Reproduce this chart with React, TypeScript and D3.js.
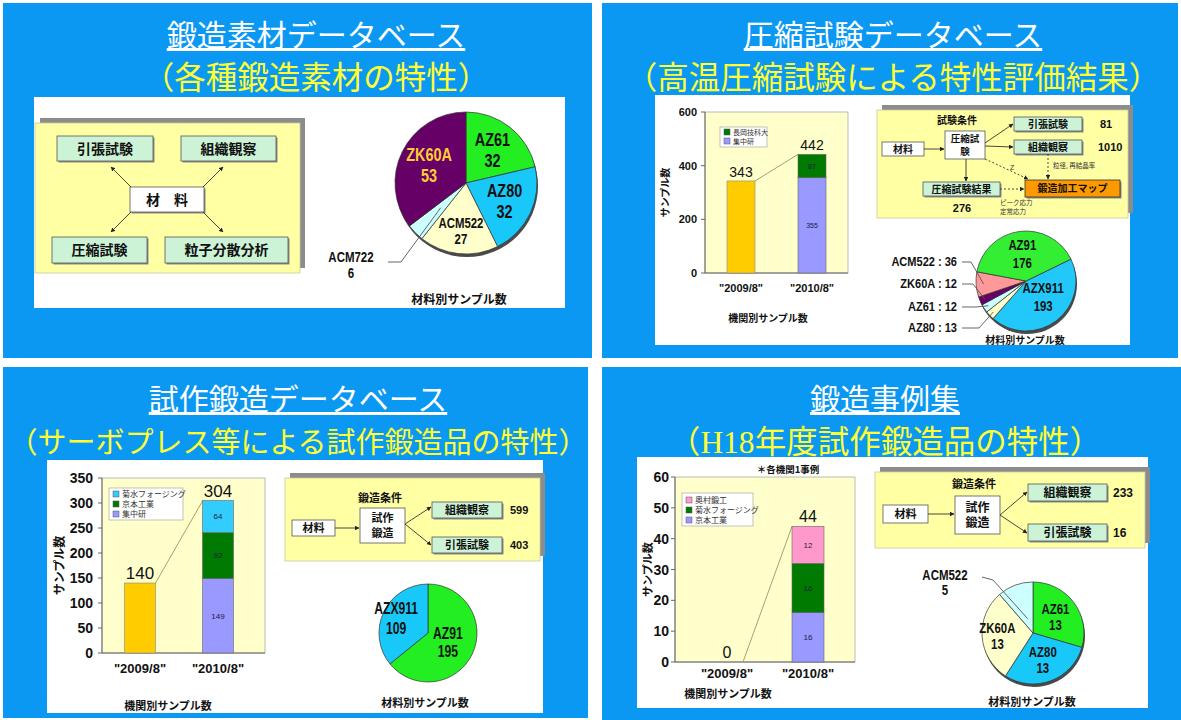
import * as d3 from 'd3'

const periods = ['"2009/8"', '"2010/8"']

// 鍛造素材データベース
const materialNames = ['AZ61', 'AZ80', 'ACM522', 'ACM722', 'ZK60A']
const materialCounts = [32, 32, 27, 6, 53]
const materialColors = ['#22ee22', '#18c8f8', '#ffffcc', '#ccffff', '#660066']

// 圧縮試験データベース
const compTotals = [343, 442]
const compInstitutes = ['集中研', '長岡技科大']
const compCounts2010 = [355, 87]
const compInstituteColors = ['#9999ff', '#007a00']
const compNames = ['AZX911', 'AZ80', 'AZ61', 'ZK60A', 'ACM522', 'AZ91']
const compCounts = [193, 13, 12, 12, 36, 176]
const compColors = ['#22c8fa', '#ffffcc', '#ccffff', '#660066', '#ff9999', '#33ee33']
const compTestCounts = [81, 1010, 276] // 引張試験, 組織観察, 圧縮試験結果

// 試作鍛造データベース
const trialTotals = [140, 304]
const trialInstitutes = ['集中研', '京本工業', '菊水フォージング']
const trialCounts2010 = [149, 92, 64]
const trialInstituteColors = ['#9999ff', '#007a00', '#33ccff']
const trialNames = ['AZ91', 'AZX911']
const trialCounts = [195, 109]
const trialColors = ['#22ee22', '#18c8f8']
const trialTestCounts = [599, 403] // 組織観察, 引張試験

// 鍛造事例集
const caseTotals = [0, 44]
const caseInstitutes = ['京本工業', '菊水フォージング', '奥村鍛工']
const caseCounts2010 = [16, 16, 12]
const caseInstituteColors = ['#9999ff', '#007a00', '#ff99cc']
const caseNames = ['AZ61', 'AZ80', 'ZK60A', 'ACM522']
const caseCounts = [13, 13, 13, 5]
const caseColors = ['#22ee22', '#18c8f8', '#ffffcc', '#ccffff']
const caseTestCounts = [233, 16] // 組織観察, 引張試験

const jp = "'Noto Sans CJK JP', 'Noto Sans', sans-serif"
const latin = "'Liberation Sans', Arial, sans-serif"
const serif = "'Liberation Serif', serif"
const blue = '#0a98f2'
const flowYellow = '#ffffa4'
const plotYellow = '#ffffcc'
const boxGreen = '#cdf3d6'
const gold = '#ffcc00'

function Panel({ x, y, w, h, cx, title, sub, subSize = 31.5, box }: any) {
  return (
    <g>
      <rect x={x} y={y} width={w} height={h} fill={blue} />
      <text x={cx} y={y + 43} textAnchor="middle" fontSize={30} fill="#fff" fontFamily={jp}
        style={{ textDecoration: 'underline' }}>{title}</text>
      <text x={cx} y={y + 86} textAnchor="middle" fontSize={subSize} fill="#ffff33" fontFamily={jp}>{sub}</text>
      <rect x={box[0]} y={box[1]} width={box[2] - box[0]} height={box[3] - box[1]} fill="#fff" />
    </g>
  )
}

function NText({ x, y, size, children, fill = '#111', anchor = 'middle', sx = 0.76 }: any) {
  return (
    <text transform={`translate(${x},${y}) scale(${sx},1)`} textAnchor={anchor} fontSize={size}
      fontWeight="bold" fontFamily={latin} fill={fill}>{children}</text>
  )
}

function Box({ x, y, w, h, fill, lines, size, shadow = false, stroke = '#555' }: any) {
  return (
    <g>
      {shadow && <rect x={x + 1.5} y={y + 1.5} width={w} height={h} fill="#8a8a8a" />}
      <rect x={x} y={y} width={w} height={h} fill={fill} stroke={stroke} strokeWidth={0.8} />
      {lines.map((t: string, i: number) => (
        <text key={i} x={x + w / 2} y={y + h / 2 + (i - (lines.length - 1) / 2) * size * 1.3} dy="0.36em"
          textAnchor="middle" fontSize={size} fontWeight="bold" fontFamily={jp} fill="#111">{t}</text>
      ))}
    </g>
  )
}

function Arrow({ x1, y1, x2, y2, dashed = false }: any) {
  return <line x1={x1} y1={y1} x2={x2} y2={y2} stroke="#333" strokeWidth={0.9}
    strokeDasharray={dashed ? '2,2' : undefined} markerEnd="url(#arr)" />
}

function FlowFrame({ x, y, w, h }: any) {
  return (
    <g>
      <rect x={x + 5} y={y - 5} width={w} height={h} fill="#8c8c8c" />
      <rect x={x} y={y} width={w} height={h} fill={flowYellow} stroke="#c8c8a0" strokeWidth={0.8} />
    </g>
  )
}

function BarChart({ cfg, totals, names, counts, colors }: any) {
  const { left, right, top, bottom } = cfg
  const y = d3.scaleLinear().domain([0, cfg.yMax]).range([bottom, top])
  const x = d3.scalePoint<string>().domain(periods).range(cfg.centers)
  const row: Record<string, number> = {}
  names.forEach((n: string, i: number) => { row[n] = counts[i] })
  const series = d3.stack<Record<string, number>>().keys(names)([row])
  const hw = cfg.barWidth / 2
  const xa = x(periods[0]) ?? 0
  const xb = x(periods[1]) ?? 0
  const lg = cfg.legend
  const legendOrder = names.map((_: string, i: number) => i).reverse()
  return (
    <g>
      <rect x={left} y={top} width={right - left} height={bottom - top} fill={plotYellow} stroke="#aaa" strokeWidth={0.8} />
      <line x1={left} x2={left} y1={top} y2={bottom} stroke="#666" />
      <line x1={left} x2={right} y1={bottom} y2={bottom} stroke="#666" />
      {y.ticks(cfg.tickCount).map((t) => (
        <g key={t}>
          <line x1={left - 4} x2={left} y1={y(t)} y2={y(t)} stroke="#666" />
          <text x={left - cfg.tickGap} y={y(t)} dy="0.36em" textAnchor="end" fontSize={cfg.tickSize}
            fontWeight="bold" fontFamily={latin} fill="#111">{t}</text>
        </g>
      ))}
      <text transform={`translate(${cfg.axisX},${(top + bottom) / 2}) rotate(-90)`} dy="0.36em" textAnchor="middle"
        fontSize={cfg.axisSize} fontWeight="bold" fontFamily={jp} fill="#111">サンプル数</text>
      <line x1={xa + hw} y1={y(totals[0])} x2={xb - hw} y2={y(totals[1])} stroke="#a8a070" strokeWidth={1} />
      <rect x={xa - hw} y={y(totals[0])} width={cfg.barWidth} height={bottom - y(totals[0])} fill={gold}
        stroke="#888" strokeWidth={0.6} />
      {series.map((s, i) => {
        const [a, b] = s[0]
        return (
          <g key={s.key}>
            <rect x={xb - hw} y={y(b)} width={cfg.barWidth} height={y(a) - y(b)} fill={colors[i]} stroke="#666" strokeWidth={0.6} />
            <text x={xb} y={(y(a) + y(b)) / 2} dy="0.36em" textAnchor="middle" fontSize={cfg.innerSize}
              fontFamily={latin} fill="#1c1c44">{counts[i]}</text>
          </g>
        )
      })}
      {totals.map((t: number, i: number) => (
        <text key={i} x={x(periods[i])} y={y(t) - 4} textAnchor="middle" fontSize={cfg.totalSize}
          fontFamily={latin} fill="#111">{t}</text>
      ))}
      {periods.map((p) => (
        <text key={p} x={x(p)} y={cfg.catY} textAnchor="middle" fontSize={cfg.catSize} fontWeight="bold"
          fontFamily={latin} fill="#111">{p}</text>
      ))}
      <text x={cfg.captionX} y={cfg.captionY} textAnchor="middle" fontSize={cfg.captionSize} fontWeight="bold"
        fontFamily={jp} fill="#111">機関別サンプル数</text>
      <g transform={`translate(${lg.x},${lg.y})`}>
        <rect width={lg.w} height={lg.h} fill="#fff" stroke="#999" strokeWidth={0.6} />
        {legendOrder.map((ci: number, i: number) => (
          <g key={names[ci]} transform={`translate(4,${lg.pad + i * lg.step})`}>
            <rect y={-3} width={6} height={6} fill={colors[ci]} stroke="#555" strokeWidth={0.5} />
            <text x={9} dy="0.36em" fontSize={lg.size} fontFamily={jp} fill="#333">{names[ci]}</text>
          </g>
        ))}
      </g>
    </g>
  )
}

function PieChart({ cfg, names, values, colors, labels }: any) {
  const { cx, cy, r } = cfg
  const start = (cfg.startDeg * Math.PI) / 180
  const arcs = d3.pie<number>().sort(null).startAngle(start).endAngle(start + 2 * Math.PI)(values)
  const arc = d3.arc<d3.PieArcDatum<number>>().innerRadius(0).outerRadius(r)
  const at = (d: d3.PieArcDatum<number>, f: number) => {
    const m = (d.startAngle + d.endAngle) / 2
    return [cx + Math.sin(m) * r * f, cy - Math.cos(m) * r * f]
  }
  return (
    <g>
      {cfg.rim && <circle cx={cx + 1} cy={cy + 3} r={r} fill="#4a4a4a" />}
      <g transform={`translate(${cx},${cy})`}>
        {arcs.map((d, i) => (
          <path key={names[i]} d={arc(d) ?? ''} fill={colors[i]} stroke="#333" strokeWidth={0.7} />
        ))}
      </g>
      {arcs.map((d, i) => {
        const lb = labels[names[i]]
        if (!lb) return null
        if (lb.mode === 'in') {
          const [lx, ly] = at(d, lb.f)
          return (
            <g key={names[i]}>
              <NText x={lx + (lb.dx ?? 0)} y={ly - lb.gap / 2 + lb.size * 0.36} size={lb.size} fill={lb.fill}>{names[i]}</NText>
              <NText x={lx + (lb.dx ?? 0)} y={ly + lb.gap / 2 + lb.size * 0.36} size={lb.size} fill={lb.fill}>{values[i]}</NText>
            </g>
          )
        }
        const [px, py] = at(d, lb.f)
        return (
          <g key={names[i]}>
            <polyline points={`${lb.lx},${lb.ly} ${lb.lx + lb.elbow},${lb.ly + (lb.drop ?? 0)} ${px},${py}`}
              fill="none" stroke="#555" strokeWidth={0.9} />
            {lb.split ? (
              <g>
                <NText x={lb.x} y={lb.y} size={lb.size} sx={0.82}>{names[i]}</NText>
                <NText x={lb.x} y={lb.y + lb.gap} size={lb.size} sx={0.82}>{values[i]}</NText>
              </g>
            ) : (
              <NText x={lb.x} y={lb.y} size={lb.size} anchor="end" sx={0.85}>{`${names[i]} : ${values[i]}`}</NText>
            )}
          </g>
        )
      })}
      <text x={cfg.captionX} y={cfg.captionY} textAnchor="middle" fontSize={cfg.captionSize} fontWeight="bold"
        fontFamily={jp} fill="#111">材料別サンプル数</text>
    </g>
  )
}

const compBarCfg = {
  left: 705, right: 848, top: 112, bottom: 273, yMax: 600, tickCount: 3, centers: [741, 812], barWidth: 28,
  tickSize: 11, tickGap: 8, axisX: 665, axisSize: 10, innerSize: 7, totalSize: 14, catY: 292, catSize: 11,
  captionX: 768, captionY: 322, captionSize: 10, legend: { x: 720, y: 127, w: 47, h: 20, pad: 5, step: 9, size: 7 },
}
const trialBarCfg = {
  left: 102, right: 265, top: 478, bottom: 653, yMax: 350, tickCount: 7, centers: [140, 218], barWidth: 31,
  tickSize: 14, tickGap: 9, axisX: 60, axisSize: 12, innerSize: 8, totalSize: 17, catY: 673, catSize: 13,
  captionX: 168, captionY: 710, captionSize: 11, legend: { x: 109, y: 488, w: 74, h: 32, pad: 6, step: 10, size: 8 },
}
const caseBarCfg = {
  left: 675, right: 855, top: 477, bottom: 662, yMax: 60, tickCount: 6, centers: [727, 808], barWidth: 32,
  tickSize: 14, tickGap: 6, axisX: 648, axisSize: 11, innerSize: 8, totalSize: 16, catY: 678, catSize: 13,
  captionX: 728, captionY: 698, captionSize: 11, legend: { x: 682, y: 493, w: 71, h: 33, pad: 7, step: 10, size: 8 },
}

export default function App() {
  return (
    <svg width={1181} height={720} viewBox="0 0 1181 720"
      style={{ position: 'absolute', left: 0, top: 0, background: '#fff', display: 'block' }}>
      <defs>
        <marker id="arr" viewBox="0 0 10 10" refX="9" refY="5" markerWidth="5" markerHeight="5" orient="auto">
          <path d="M0,0L10,5L0,10z" fill="#222" />
        </marker>
      </defs>

      {/* 鍛造素材データベース */}
      <Panel x={3} y={3} w={589} h={355} cx={316} title="鍛造素材データベース" sub="（各種鍛造素材の特性）"
        box={[34, 97, 565, 308]} />
      <FlowFrame x={35} y={123} w={265} h={150} />
      <Box x={57} y={136} w={96} h={25} fill={boxGreen} lines={['引張試験']} size={14} shadow />
      <Box x={181} y={136} w={95} h={25} fill={boxGreen} lines={['組織観察']} size={14} shadow />
      <Box x={130} y={187} w={74} h={25} fill="#fff" lines={['材　料']} size={14} shadow />
      <Box x={52} y={237} w={95} h={26} fill={boxGreen} lines={['圧縮試験']} size={14} shadow />
      <Box x={165} y={237} w={123} h={26} fill={boxGreen} lines={['粒子分散分析']} size={14} shadow />
      <Arrow x1={131} y1={187} x2={111} y2={167} />
      <Arrow x1={203} y1={187} x2={223} y2={167} />
      <Arrow x1={131} y1={212} x2={111} y2={232} />
      <Arrow x1={203} y1={212} x2={223} y2={232} />
      <PieChart cfg={{ cx: 466, cy: 183, r: 71, startDeg: 0, rim: true, captionX: 459, captionY: 304, captionSize: 12 }}
        names={materialNames} values={materialCounts} colors={materialColors}
        labels={{
          AZ61: { mode: 'in', f: 0.6, size: 19, gap: 21 },
          AZ80: { mode: 'in', f: 0.6, size: 19, gap: 21 },
          ACM522: { mode: 'in', f: 0.68, size: 15, gap: 16 },
          ZK60A: { mode: 'in', f: 0.58, size: 19, gap: 21, fill: '#ffcc33' },
          ACM722: { mode: 'out', f: 0.5, x: 351, y: 262, split: true, gap: 16, size: 14, lx: 388, ly: 262, elbow: 13 },
        }} />

      {/* 圧縮試験データベース */}
      <Panel x={602} y={3} w={576} h={355} cx={893} title="圧縮試験データベース" sub="（高温圧縮試験による特性評価結果）"
        box={[655, 95, 1130, 345]} />
      <BarChart cfg={compBarCfg} totals={compTotals} names={compInstitutes} counts={compCounts2010} colors={compInstituteColors} />
      <FlowFrame x={877} y={110} w={251} h={108} />
      <text x={957} y={124} textAnchor="middle" fontSize={10} fontWeight="bold" fontFamily={jp} fill="#111">試験条件</text>
      <Box x={882} y={142} w={42} h={14} fill="#fff" lines={['材料']} size={10} />
      <Box x={945} y={131} w={40} h={28} fill="#fff" lines={['圧縮試', '験']} size={9.5} />
      <Box x={1014} y={117} w={68} h={14} fill={boxGreen} lines={['引張試験']} size={10} shadow />
      <Box x={1014} y={140} w={68} h={14} fill={boxGreen} lines={['組織観察']} size={10} shadow />
      <Box x={923} y={182} w={77} h={14} fill={boxGreen} lines={['圧縮試験結果']} size={10} shadow />
      <Box x={1025} y={180} w={95} h={17} fill="#ff9900" lines={['鍛造加工マップ']} size={10} stroke="#333" shadow />
      <text x={1100} y={128} fontSize={11} fontWeight="bold" fontFamily={latin} fill="#111">{compTestCounts[0]}</text>
      <text x={1098} y={151} fontSize={11} fontWeight="bold" fontFamily={latin} fill="#111">{compTestCounts[1]}</text>
      <text x={962} y={212} textAnchor="middle" fontSize={11} fontWeight="bold" fontFamily={latin} fill="#111">{compTestCounts[2]}</text>
      <text x={1000} y={205} fontSize={6.5} fontFamily={jp} fill="#333">ピーク応力</text>
      <text x={1000} y={214} fontSize={6.5} fontFamily={jp} fill="#333">定常応力</text>
      <text x={1053} y={168} fontSize={6.5} fontFamily={jp} fill="#333">粒径, 再結晶率</text>
      <text x={1010} y={170} fontSize={7} fontFamily={latin} fill="#333">Z</text>
      <Arrow x1={924} y1={149} x2={944} y2={149} />
      <Arrow x1={985} y1={143} x2={1013} y2={124} />
      <Arrow x1={985} y1={146} x2={1013} y2={147} />
      <Arrow x1={966} y1={159} x2={966} y2={181} />
      <Arrow x1={985} y1={159} x2={1028} y2={179} dashed />
      <Arrow x1={1048} y1={154} x2={1048} y2={179} dashed />
      <Arrow x1={1000} y1={189} x2={1024} y2={189} dashed />
      <PieChart cfg={{ cx: 1026, cy: 281, r: 50, startDeg: 64, rim: true, captionX: 1025, captionY: 344, captionSize: 10 }}
        names={compNames} values={compCounts} colors={compColors}
        labels={{
          AZ91: { mode: 'in', f: 0.55, size: 15, gap: 18 },
          AZX911: { mode: 'in', f: 0.4, size: 15, gap: 18, dx: 5 },
          ACM522: { mode: 'out', f: 0.85, x: 957, y: 266, size: 13, lx: 962, ly: 262, elbow: 9 },
          ZK60A: { mode: 'out', f: 0.9, x: 957, y: 288, size: 13, lx: 962, ly: 284, elbow: 11 },
          AZ61: { mode: 'out', f: 0.9, x: 957, y: 311, size: 13, lx: 962, ly: 307, elbow: 14 },
          AZ80: { mode: 'out', f: 0.9, x: 957, y: 332, size: 13, lx: 962, ly: 328, elbow: 17 },
        }} />

      {/* 試作鍛造データベース */}
      <Panel x={3} y={367} w={585} h={351} cx={298} title="試作鍛造データベース" sub="（サーボプレス等による試作鍛造品の特性）"
        subSize={29} box={[47, 460, 543, 713]} />
      <BarChart cfg={trialBarCfg} totals={trialTotals} names={trialInstitutes} counts={trialCounts2010} colors={trialInstituteColors} />
      <FlowFrame x={285} y={478} w={255} h={83} />
      <text x={380} y={502} textAnchor="middle" fontSize={11} fontWeight="bold" fontFamily={jp} fill="#111">鍛造条件</text>
      <Box x={292} y={520} w={43} h={16} fill="#fff" lines={['材料']} size={11} />
      <Box x={360} y={508} w={45} h={35} fill="#fff" lines={['試作', '鍛造']} size={11} />
      <Box x={432} y={502} w={70} h={16} fill={boxGreen} lines={['組織観察']} size={11} shadow />
      <Box x={432} y={537} w={70} h={16} fill={boxGreen} lines={['引張試験']} size={11} shadow />
      <text x={510} y={514} fontSize={11} fontWeight="bold" fontFamily={latin} fill="#111">{trialTestCounts[0]}</text>
      <text x={510} y={549} fontSize={11} fontWeight="bold" fontFamily={latin} fill="#111">{trialTestCounts[1]}</text>
      <Arrow x1={335} y1={528} x2={359} y2={528} />
      <Arrow x1={405} y1={524} x2={431} y2={507} />
      <Arrow x1={405} y1={524} x2={431} y2={545} />
      <PieChart cfg={{ cx: 428, cy: 633, r: 49, startDeg: 0, rim: false, captionX: 425, captionY: 707, captionSize: 11 }}
        names={trialNames} values={trialCounts} colors={trialColors}
        labels={{
          AZ91: { mode: 'in', f: 0.45, size: 16, gap: 18 },
          AZX911: { mode: 'in', f: 0.72, size: 16, gap: 20 },
        }} />

      {/* 鍛造事例集 */}
      <Panel x={602} y={367} w={579} h={353} cx={885}
        title="鍛造事例集"
        sub={<>（<tspan fontFamily={serif}>H18</tspan>年度試作鍛造品の特性）</>}
        box={[637, 457, 1148, 708]} />
      <text x={788} y={473} textAnchor="middle" fontSize={9.5} fontWeight="bold" fontFamily={jp} fill="#111">＊各機関1事例</text>
      <BarChart cfg={caseBarCfg} totals={caseTotals} names={caseInstitutes} counts={caseCounts2010} colors={caseInstituteColors} />
      <FlowFrame x={875} y={472} w={270} h={76} />
      <text x={974} y={488} textAnchor="middle" fontSize={11} fontWeight="bold" fontFamily={jp} fill="#111">鍛造条件</text>
      <Box x={883} y={505} w={45} h={18} fill="#fff" lines={['材料']} size={11} />
      <Box x={955} y={496} w={45} h={38} fill="#fff" lines={['試作', '鍛造']} size={12} />
      <Box x={1028} y={484} w={79} h={17} fill={boxGreen} lines={['組織観察']} size={12} shadow />
      <Box x={1028} y={524} w={79} h={17} fill={boxGreen} lines={['引張試験']} size={12} shadow />
      <text x={1113} y={497} fontSize={12} fontWeight="bold" fontFamily={latin} fill="#111">{caseTestCounts[0]}</text>
      <text x={1113} y={537} fontSize={12} fontWeight="bold" fontFamily={latin} fill="#111">{caseTestCounts[1]}</text>
      <Arrow x1={928} y1={514} x2={954} y2={514} />
      <Arrow x1={1000} y1={515} x2={1027} y2={492} />
      <Arrow x1={1000} y1={515} x2={1027} y2={533} />
      <PieChart cfg={{ cx: 1033, cy: 633, r: 51, startDeg: 0, rim: true, captionX: 1032, captionY: 706, captionSize: 11 }}
        names={caseNames} values={caseCounts} colors={caseColors}
        labels={{
          AZ61: { mode: 'in', f: 0.55, size: 15, gap: 16 },
          AZ80: { mode: 'in', f: 0.55, size: 15, gap: 16 },
          ZK60A: { mode: 'in', f: 0.7, size: 15, gap: 16 },
          ACM522: { mode: 'out', f: 0.3, x: 945, y: 580, split: true, gap: 15, size: 14, lx: 982, ly: 577, elbow: 11, drop: 3 },
        }} />
    </svg>
  )
}
